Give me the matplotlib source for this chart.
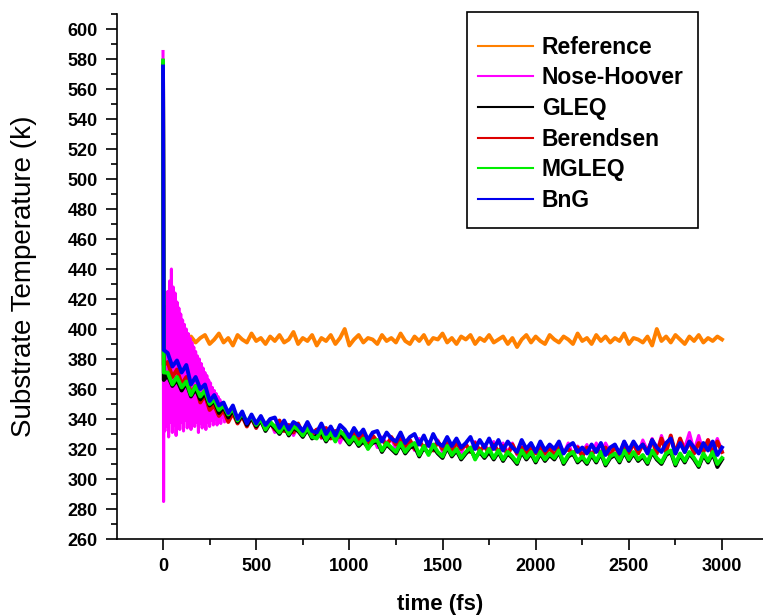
import numpy as np
import matplotlib
matplotlib.use("Agg")
import matplotlib.pyplot as plt
from matplotlib.ticker import MultipleLocator
from matplotlib.lines import Line2D
from matplotlib.patches import Rectangle

plt.rcParams['font.family'] = ['Liberation Sans', 'DejaVu Sans']

# time grids (fs)
t_main = [0, 4] + list(range(25, 3001, 25))
t_ref = list(range(125, 3001, 25))
t_nh = [0, 3] + list(range(5, 351, 5)) + list(range(375, 3001, 25))

labels = ['Reference', 'Nose-Hoover', 'GLEQ', 'Berendsen', 'MGLEQ', 'BnG']
colors = ['#FF8000', '#FF00FF', '#000000', '#DD0000', '#00EE00', '#0000EE']

# Reference (orange)
ref_T = [392, 395, 391, 394, 396, 390, 393, 397, 391, 394,
         389, 396, 393, 391, 397, 392, 394, 390, 395, 392,
         396, 391, 393, 398, 390, 394, 392, 396, 389, 394,
         392, 396, 390, 394, 400, 389, 393, 396, 391, 394,
         393, 390, 396, 392, 394, 391, 397, 392, 390, 395,
         392, 396, 390, 394, 393, 397, 391, 394, 390, 395,
         393, 396, 390, 394, 392, 396, 391, 393, 395, 390,
         394, 388, 393, 396, 391, 395, 392, 390, 396, 393,
         391, 395, 393, 390, 397, 392, 394, 390, 396, 392,
         395, 391, 394, 392, 397, 390, 394, 393, 391, 395,
         389, 400, 392, 395, 391, 396, 393, 390, 395, 392,
         396, 391, 394, 392, 395, 393]

# Nose-Hoover (magenta)
nh_T = [585, 285,
        380, 332, 415, 335, 425, 328, 432, 338, 440, 331,
        428, 336, 424, 329, 418, 337, 414, 333, 410, 338,
        406, 332, 403, 339, 400, 334, 397, 338, 394, 333,
        391, 339, 388, 335, 385, 338, 382, 331, 380, 337,
        377, 334, 374, 339, 371, 333, 369, 338, 366, 335,
        364, 339, 361, 336, 359, 340, 357, 336, 355, 340,
        353, 337, 351, 341, 349, 338, 347, 341, 346, 340,
        346, 338, 343, 336, 340, 334, 341, 333, 338, 331,
        338, 332, 336, 329, 335, 331, 334, 328, 333, 327,
        333, 327, 332, 324, 331, 327, 329, 322, 330, 323,
        329, 321, 328, 324, 327, 320, 328, 321, 326, 319,
        327, 319, 325, 321, 326, 318, 324, 320, 325, 317,
        324, 318, 325, 317, 323, 319, 325, 317, 324, 318,
        324, 316, 325, 319, 322, 317, 324, 316, 323, 318,
        323, 317, 324, 316, 322, 318, 323, 316, 324, 317,
        324, 318, 322, 317, 325, 319, 323, 317, 326, 319,
        327, 318, 329, 320, 328, 318, 327, 321, 331, 319,
        329, 318, 326, 320, 327, 319]

# GLEQ (black)
gleq_T = [576, 366,
          369, 362, 366, 359, 364, 355, 360, 353, 357, 349,
          352, 344, 348, 341, 346, 338, 343, 336, 341, 335,
          339, 332, 337, 334, 330, 335, 329, 334, 332, 328,
          333, 327, 329, 331, 325, 330, 326, 331, 327, 323,
          327, 322, 325, 321, 324, 325, 318, 323, 320, 317,
          323, 317, 321, 322, 315, 321, 317, 321, 317, 314,
          321, 315, 319, 313, 317, 320, 314, 318, 314, 318,
          313, 318, 312, 317, 314, 310, 318, 313, 317, 311,
          317, 312, 316, 313, 318, 310, 315, 317, 311, 314,
          310, 316, 311, 317, 309, 314, 316, 311, 318, 312,
          317, 312, 315, 310, 318, 313, 310, 316, 318, 309,
          316, 311, 317, 313, 308, 316, 311, 317, 308, 313]

# Berendsen (red)
ber_T = [577, 376,
         378, 368, 373, 363, 368, 357, 362, 351, 356, 346,
         349, 342, 346, 338, 344, 337, 342, 335, 341, 334,
         340, 335, 338, 333, 339, 332, 336, 331, 337, 330,
         335, 330, 333, 328, 334, 327, 332, 328, 331, 326,
         331, 326, 330, 324, 329, 325, 327, 322, 328, 323,
         327, 322, 326, 320, 325, 321, 324, 319, 325, 320,
         325, 319, 324, 320, 323, 318, 324, 319, 322, 317,
         323, 318, 322, 316, 323, 317, 321, 316, 322, 317,
         322, 317, 321, 315, 322, 318, 320, 316, 321, 315,
         321, 316, 320, 317, 321, 315, 322, 316, 323, 317,
         324, 317, 323, 318, 326, 317, 327, 318, 329, 317,
         327, 318, 325, 317, 324, 318, 326, 317, 325, 318]

# MGLEQ (green)
mgleq_T = [579, 371,
           371, 363, 368, 361, 365, 356, 362, 355, 359, 350,
           353, 346, 349, 343, 347, 339, 344, 338, 342, 336,
           340, 333, 338, 335, 331, 336, 330, 335, 333, 329,
           334, 328, 327, 333, 326, 331, 325, 332, 329, 324,
           328, 323, 327, 320, 325, 326, 319, 324, 321, 318,
           324, 318, 322, 324, 316, 322, 316, 323, 318, 315,
           322, 316, 320, 314, 318, 321, 313, 319, 315, 320,
           314, 319, 313, 318, 315, 311, 319, 314, 318, 312,
           318, 313, 317, 314, 319, 311, 316, 318, 312, 315,
           311, 317, 312, 318, 310, 315, 317, 312, 319, 313,
           318, 313, 316, 311, 319, 314, 311, 317, 319, 310,
           317, 312, 318, 314, 309, 317, 312, 318, 310, 314]

# BnG (blue)
bng_T = [575, 386,
         384, 375, 379, 371, 376, 363, 368, 360, 363, 352,
         356, 349, 351, 344, 349, 340, 345, 337, 343, 337,
         342, 336, 340, 341, 334, 339, 333, 338, 336, 332,
         338, 332, 331, 337, 330, 335, 329, 336, 333, 328,
         334, 329, 333, 326, 331, 332, 325, 331, 327, 325,
         331, 324, 328, 330, 323, 329, 322, 330, 324, 322,
         328, 322, 327, 321, 324, 328, 320, 326, 321, 327,
         320, 326, 319, 325, 321, 318, 326, 320, 324, 318,
         325, 319, 323, 320, 325, 317, 322, 324, 318, 321,
         317, 323, 318, 324, 316, 321, 323, 317, 325, 319,
         325, 320, 323, 317, 326, 321, 318, 324, 327, 317,
         324, 318, 325, 321, 317, 324, 319, 325, 316, 321]

fig = plt.figure(figsize=(7.63, 6.15), dpi=100)
ax = fig.add_axes([117/763, 76/615, 646/763, 525/615])

lw = 2.8
ax.plot(t_ref, ref_T, color=colors[0], lw=lw)
ax.plot(t_nh, nh_T, color=colors[1], lw=2.2)
ax.plot(t_main, ber_T, color=colors[3], lw=lw)
ax.plot(t_main, gleq_T, color=colors[2], lw=lw)
ax.plot(t_main, mgleq_T, color=colors[4], lw=lw)
ax.plot(t_main, bng_T, color=colors[5], lw=lw)

ax.set_xlim(-247, 3220)
ax.set_ylim(260, 610)
ax.spines['top'].set_visible(False)
ax.spines['right'].set_visible(False)
for s in ['left', 'bottom']:
    ax.spines[s].set_linewidth(1.2)

ax.xaxis.set_major_locator(MultipleLocator(500))
ax.xaxis.set_minor_locator(MultipleLocator(250))
ax.set_yticks(np.arange(260, 601, 20))
ax.yaxis.set_minor_locator(MultipleLocator(10))
ax.tick_params(which='major', direction='out', length=8, width=1.2, labelsize=13, pad=6)
ax.tick_params(which='minor', direction='out', length=4.5, width=1.2)
for lab in ax.get_xticklabels() + ax.get_yticklabels():
    lab.set_fontweight('bold')

ax.set_xlabel('time (fs)', fontsize=16, fontweight='bold')
ax.xaxis.set_label_coords(0.5, -0.105)
ax.set_ylabel('Substrate Temperature (k)', fontsize=20)
ax.yaxis.set_label_coords(-0.124, 0.5)

# legend: frameless entries plus a drawn box
handles = [Line2D([], [], color=c, lw=1.5) for c in colors]
ax.legend(handles, labels, loc='upper left', bbox_to_anchor=(478/763, 1 - 35.7/615),
          bbox_transform=fig.transFigure, frameon=False,
          prop={'weight': 'bold', 'size': 16.5},
          handlelength=2.4, handletextpad=0.39, labelspacing=0.335,
          borderpad=0, borderaxespad=0)
fig.add_artist(Rectangle((467/763, 1 - 228/615), 231/763, 216/615, fill=False,
                         edgecolor='black', lw=1.2, transform=fig.transFigure))

fig.savefig('out.png', dpi=100)
